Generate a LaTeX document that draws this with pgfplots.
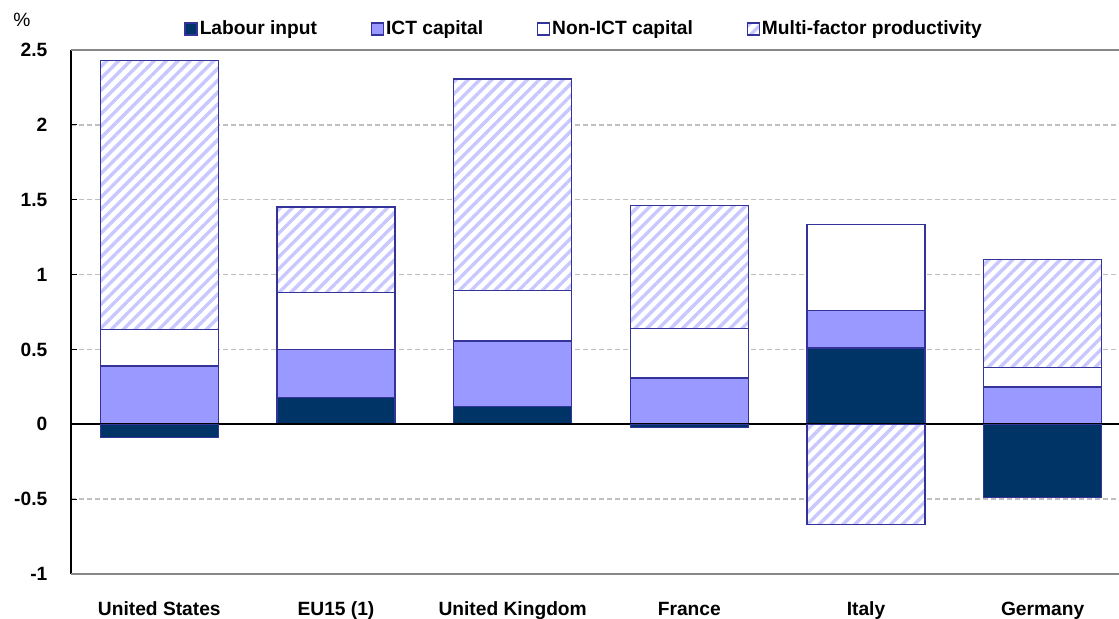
\documentclass[border=0pt]{standalone}
\usepackage{pgfplots}
\pgfplotsset{compat=1.18}
\usepackage{fontspec}
\setmainfont{Liberation Sans}
\usetikzlibrary{patterns.meta}
\definecolor{labour}{HTML}{003366}
\definecolor{ict}{HTML}{9999FF}
\definecolor{border}{HTML}{333399}
\definecolor{hatch}{HTML}{C8C8FF}
\definecolor{gridc}{HTML}{C0C0C0}
\definecolor{frame}{HTML}{888888}
\newcommand{\lblfont}{\bfseries\fontsize{9.6}{11}\selectfont}
\pgfplotsset{
  common/.style={
    at={(0,0)}, anchor=south west, scale only axis,
    width=530pt, height=262pt,
    xmin=-0.5, xmax=5.5, ymin=-1, ymax=2.5,
    ybar stacked, bar width=59pt,
    axis line style={draw=none},
  },
  barstyle/.style={draw=border, line width=0.7pt},
  hatched/.style={barstyle, fill=white, postaction={pattern={Lines[angle=45,distance=4.2pt,line width=1.7pt]}, pattern color=hatch}},
}
\begin{document}
\begin{tikzpicture}
\path[use as bounding box] (-35.5pt,-22.5pt) rectangle (524pt,287pt);
\begin{axis}[common,
  xtick={0,1,2,3,4,5},
  xticklabels={United States, EU15 (1), United Kingdom, France, Italy, Germany},
  ytick={-1,-0.5,0,0.5,1,1.5,2,2.5},
  yticklabels={-1,-0.5,0,0.5,1,1.5,2,2.5},
  tick label style={font=\lblfont},
  yticklabel style={xshift=-8.3pt},
  xticklabel style={yshift=-10.5pt},
  x tick style={draw=none},
  ytick pos=left, tick align=inside, major tick length=3pt,
  y tick style={black, line width=0.6pt},
  ymajorgrids, grid style={gridc, line width=0.7pt, dash pattern=on 2.6pt off 1.4pt},
  legend columns=4,
  legend image code/.code={\draw[#1] (0pt,-3pt) rectangle (6pt,3pt);},
  legend style={draw=none, fill=none, at={(0.484,1)}, anchor=center, yshift=10.5pt,
    font=\lblfont, nodes={inner sep=1pt},
    /tikz/every even column/.append style={column sep=25.8pt}},
]
\addplot[barstyle, fill=labour] coordinates {(0,0) (1,0.18) (2,0.12) (3,0) (4,0.51) (5,0)};
\addlegendentry{Labour input}
\addplot[barstyle, fill=ict] coordinates {(0,0.39) (1,0.32) (2,0.435) (3,0.31) (4,0.25) (5,0.25)};
\addlegendentry{ICT capital}
\addplot[barstyle, fill=white] coordinates {(0,0.245) (1,0.38) (2,0.34) (3,0.33) (4,0.575) (5,0.13)};
\addlegendentry{Non-ICT capital}
\addplot[hatched] coordinates {(0,1.795) (1,0.57) (2,1.41) (3,0.82) (4,0) (5,0.72)};
\addlegendentry{Multi-factor productivity}
\end{axis}
\begin{axis}[common, clip=false, xtick=\empty, ytick=\empty]
\addplot[barstyle, fill=labour] coordinates {(0,-0.09) (1,0) (2,0) (3,-0.02) (4,0) (5,-0.49)};
\addplot[hatched] coordinates {(0,0) (1,0) (2,0) (3,0) (4,-0.67) (5,0)};
\draw[frame, line width=0.8pt] (axis cs:-0.5,2.5) -- (axis cs:5.5,2.5);
\draw[frame, line width=0.8pt] (axis cs:-0.5,-1) -- (axis cs:5.5,-1);
\draw[black, line width=0.9pt] (axis cs:-0.5,0) -- (axis cs:5.5,0);
\draw[black, line width=0.9pt] (axis cs:-0.5,-1) -- (axis cs:-0.5,2.5);
\node[font=\fontsize{9.6}{11}\selectfont] at ([shift={(-24.5pt,15pt)}]rel axis cs:0,1) {\%};
\end{axis}
\end{tikzpicture}
\end{document}
